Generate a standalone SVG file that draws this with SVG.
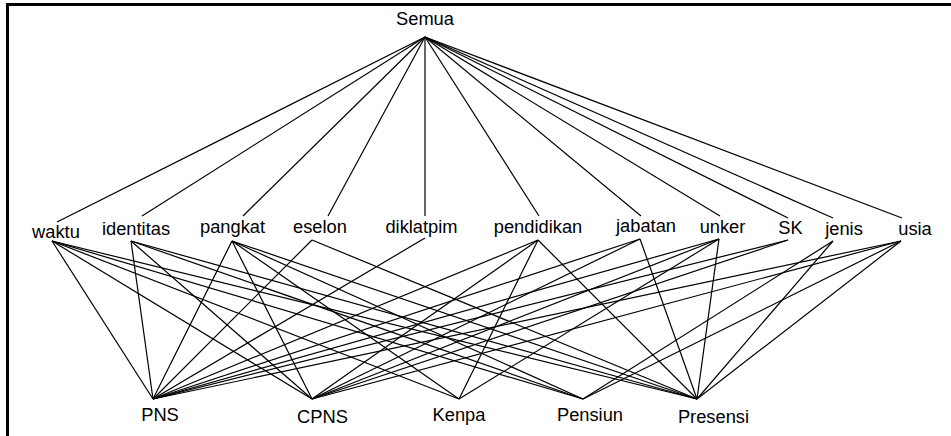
<svg xmlns="http://www.w3.org/2000/svg" width="951" height="436" viewBox="0 0 951 436">
<style>
text{font-family:"Liberation Sans",Arial,Helvetica,sans-serif;font-size:18.3px;fill:#000;text-anchor:middle}
#edges line{stroke:#000;stroke-width:1.2}
</style>
<rect width="951" height="436" fill="#fff"/>
<path d="M7.5,436 V4.5 H951" stroke="#000" stroke-width="3" fill="none"/>
<g id="edges">
<line x1="425" y1="37" x2="57" y2="222"/>
<line x1="425" y1="37" x2="142" y2="216"/>
<line x1="425" y1="37" x2="243" y2="216"/>
<line x1="425" y1="37" x2="328" y2="216"/>
<line x1="425" y1="37" x2="425" y2="216"/>
<line x1="425" y1="37" x2="539" y2="216"/>
<line x1="425" y1="37" x2="641" y2="216"/>
<line x1="425" y1="37" x2="720" y2="216"/>
<line x1="425" y1="37" x2="788" y2="218"/>
<line x1="425" y1="37" x2="833" y2="218"/>
<line x1="425" y1="37" x2="902" y2="218"/>
<line x1="52" y1="241" x2="153" y2="399"/>
<line x1="52" y1="241" x2="312" y2="399"/>
<line x1="52" y1="241" x2="459" y2="399"/>
<line x1="52" y1="241" x2="583" y2="399"/>
<line x1="52" y1="241" x2="697" y2="399"/>
<line x1="131" y1="241" x2="153" y2="399"/>
<line x1="131" y1="241" x2="312" y2="399"/>
<line x1="131" y1="241" x2="583" y2="399"/>
<line x1="131" y1="241" x2="697" y2="399"/>
<line x1="232" y1="241" x2="153" y2="399"/>
<line x1="232" y1="241" x2="312" y2="399"/>
<line x1="232" y1="241" x2="459" y2="399"/>
<line x1="232" y1="241" x2="583" y2="399"/>
<line x1="232" y1="241" x2="697" y2="399"/>
<line x1="312" y1="240" x2="153" y2="399"/>
<line x1="312" y1="240" x2="697" y2="399"/>
<line x1="425" y1="238" x2="153" y2="399"/>
<line x1="538" y1="240" x2="153" y2="399"/>
<line x1="538" y1="240" x2="312" y2="399"/>
<line x1="538" y1="240" x2="459" y2="399"/>
<line x1="538" y1="240" x2="697" y2="399"/>
<line x1="640" y1="239" x2="153" y2="399"/>
<line x1="640" y1="239" x2="312" y2="399"/>
<line x1="640" y1="239" x2="697" y2="399"/>
<line x1="719" y1="239" x2="153" y2="399"/>
<line x1="719" y1="239" x2="312" y2="399"/>
<line x1="719" y1="239" x2="459" y2="399"/>
<line x1="719" y1="239" x2="697" y2="399"/>
<line x1="788" y1="240" x2="153" y2="399"/>
<line x1="788" y1="240" x2="312" y2="399"/>
<line x1="833" y1="241" x2="583" y2="399"/>
<line x1="833" y1="241" x2="697" y2="399"/>
<line x1="901" y1="241" x2="153" y2="399"/>
<line x1="901" y1="241" x2="312" y2="399"/>
<line x1="901" y1="241" x2="583" y2="399"/>
<line x1="901" y1="241" x2="697" y2="399"/>
</g>
<g id="n-semua"><text x="425" y="25">Semua</text></g>
<g id="n-waktu"><text x="56" y="238">waktu</text></g>
<g id="n-identitas"><text x="136" y="235">identitas</text></g>
<g id="n-pangkat"><text x="232.5" y="233">pangkat</text></g>
<g id="n-eselon"><text x="320" y="233">eselon</text></g>
<g id="n-diklatpim"><text x="421.5" y="233">diklatpim</text></g>
<g id="n-pendidikan"><text x="538" y="233">pendidikan</text></g>
<g id="n-jabatan"><text x="646" y="231.7">jabatan</text></g>
<g id="n-unker"><text x="722.5" y="233">unker</text></g>
<g id="n-sk"><text x="790.5" y="234">SK</text></g>
<g id="n-jenis"><text x="844" y="235">jenis</text></g>
<g id="n-usia"><text x="915" y="235">usia</text></g>
<g id="n-pns"><text x="160" y="420.7">PNS</text></g>
<g id="n-cpns"><text x="322.5" y="423.3">CPNS</text></g>
<g id="n-kenpa"><text x="459" y="420.7">Kenpa</text></g>
<g id="n-pensiun"><text x="590" y="420.7">Pensiun</text></g>
<g id="n-presensi"><text x="713.5" y="423.3">Presensi</text></g>
</svg>
